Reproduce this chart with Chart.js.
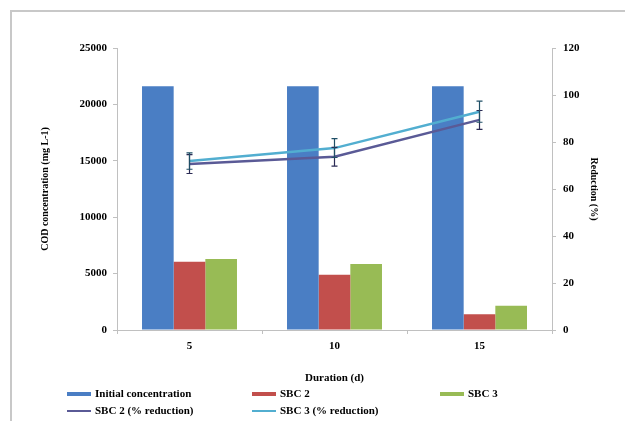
<!DOCTYPE html>
<html>
<head>
<meta charset="utf-8">
<script src="https://cdn.jsdelivr.net/npm/chart.js@4/dist/chart.umd.min.js"></script>
<style>
  body { margin: 0; background: #fff; }
  #wrap { position: relative; width: 625px; height: 421px; overflow: hidden; }
  #frame { position: absolute; left: 10px; top: 10px; width: 640px; height: 440px;
           border-left: 2px solid #c8c8c8; border-top: 2px solid #c8c8c8; }
  #chart { position: absolute; left: 0; top: 0; }
  .lg { position: absolute; font: bold 11px "Liberation Serif", serif; color: #000;
        white-space: nowrap; line-height: 14px; }
  .sw { display: inline-block; width: 24px; vertical-align: middle; margin-right: 4px; }
</style>
</head>
<body>
<div id="wrap">
  <div id="frame"></div>
  <canvas id="chart" width="625" height="421"></canvas>
  <div id="legend"></div>
</div>
<script>
const durations = ["5", "10", "15"];
const initialConc = [21600, 21600, 21600];
const sbc2Conc = [6050, 4900, 1400];
const sbc3Conc = [6300, 5850, 2150];
const sbc2Reduction = [70.6, 73.7, 89.4];
const sbc3Reduction = [71.9, 77.4, 92.9];
const sbc2Err = [4, 4, 4];
const sbc3Err = [3.5, 4, 4.5];

const serif = "'Liberation Serif', 'Times New Roman', serif";

const errorBars = {
  id: "errorBars",
  afterDatasetsDraw(chart) {
    const ctx = chart.ctx;
    const y = chart.scales.y2;
    [[3, sbc2Reduction, sbc2Err, "#2b2b55"], [4, sbc3Reduction, sbc3Err, "#1f4f66"]].forEach(([idx, vals, errs, col]) => {
      const meta = chart.getDatasetMeta(idx);
      meta.data.forEach((pt, i) => {
        const top = y.getPixelForValue(vals[i] + errs[i]);
        const bot = y.getPixelForValue(vals[i] - errs[i]);
        ctx.save();
        ctx.strokeStyle = col;
        ctx.lineWidth = 1.2;
        ctx.beginPath();
        ctx.moveTo(pt.x, top); ctx.lineTo(pt.x, bot);
        ctx.moveTo(pt.x - 3, top); ctx.lineTo(pt.x + 3, top);
        ctx.moveTo(pt.x - 3, bot); ctx.lineTo(pt.x + 3, bot);
        ctx.stroke();
        ctx.restore();
      });
    });
  }
};

const barStyle = { categoryPercentage: 0.655, barPercentage: 1, order: 2, yAxisID: "y" };
const plain = (v) => String(v);

const chart = new Chart(document.getElementById("chart"), {
  type: "bar",
  data: {
    labels: durations,
    datasets: [
      { label: "Initial concentration", data: initialConc, backgroundColor: "#4a7ec4", ...barStyle },
      { label: "SBC 2", data: sbc2Conc, backgroundColor: "#c24f4c", ...barStyle },
      { label: "SBC 3", data: sbc3Conc, backgroundColor: "#98bb55", ...barStyle },
      { type: "line", label: "SBC 2 (% reduction)", data: sbc2Reduction, borderColor: "#5a5a96",
        borderWidth: 2.5, pointRadius: 0, yAxisID: "y2", order: 0 },
      { type: "line", label: "SBC 3 (% reduction)", data: sbc3Reduction, borderColor: "#52aed0",
        borderWidth: 2.5, pointRadius: 0, yAxisID: "y2", order: 1 }
    ]
  },
  options: {
    responsive: false,
    animation: false,
    layout: { padding: { left: 35, right: 21, top: 48, bottom: 32 } },
    plugins: { legend: { display: false }, tooltip: { enabled: false } },
    scales: {
      x: {
        afterFit: (s) => { s.height = 59; },
        grid: { drawOnChartArea: false, tickLength: 4, color: "#c0c0c0" },
        border: { color: "#c0c0c0" },
        ticks: { color: "#000", font: { family: serif, size: 11, weight: "bold" }, padding: 6 },
        title: { display: true, text: "Duration (d)", color: "#000",
                 font: { family: serif, size: 11, weight: "bold" }, padding: { top: 14 } }
      },
      y: {
        position: "left",
        min: 0, max: 25000,
        afterFit: (s) => { s.width = 82; },
        grid: { drawOnChartArea: false, tickLength: 4, color: "#c0c0c0" },
        border: { color: "#c0c0c0" },
        ticks: { stepSize: 5000, color: "#000", padding: 6, callback: plain,
                 font: { family: serif, size: 11, weight: "bold" } },
        title: { display: true, text: "COD concentration (mg L-1)", color: "#000",
                 font: { family: serif, size: 10, weight: "bold" }, padding: 4 }
      },
      y2: {
        position: "right",
        min: 0, max: 120,
        afterFit: (s) => { s.width = 52; },
        grid: { drawOnChartArea: false, tickLength: 4, color: "#c0c0c0" },
        border: { color: "#c0c0c0" },
        ticks: { stepSize: 20, color: "#000", padding: 7, callback: plain,
                 font: { family: serif, size: 11, weight: "bold" } },
        title: { display: true, text: "Reduction (%)", color: "#000",
                 font: { family: serif, size: 10, weight: "bold" }, padding: 4 }
      }
    }
  },
  plugins: [errorBars]
});

// legend laid out as a grid like the original
const legendPos = [[67, 386], [252, 386], [440, 386], [67, 403], [252, 403]];
const legendEl = document.getElementById("legend");
chart.data.datasets.forEach((ds, i) => {
  const item = document.createElement("div");
  item.className = "lg";
  item.style.left = legendPos[i][0] + "px";
  item.style.top = legendPos[i][1] + "px";
  const sw = document.createElement("span");
  sw.className = "sw";
  const isLine = ds.type === "line";
  sw.style.height = isLine ? "2px" : "4px";
  sw.style.background = isLine ? ds.borderColor : ds.backgroundColor;
  item.appendChild(sw);
  item.appendChild(document.createTextNode(ds.label));
  legendEl.appendChild(item);
});
</script>
</body>
</html>
